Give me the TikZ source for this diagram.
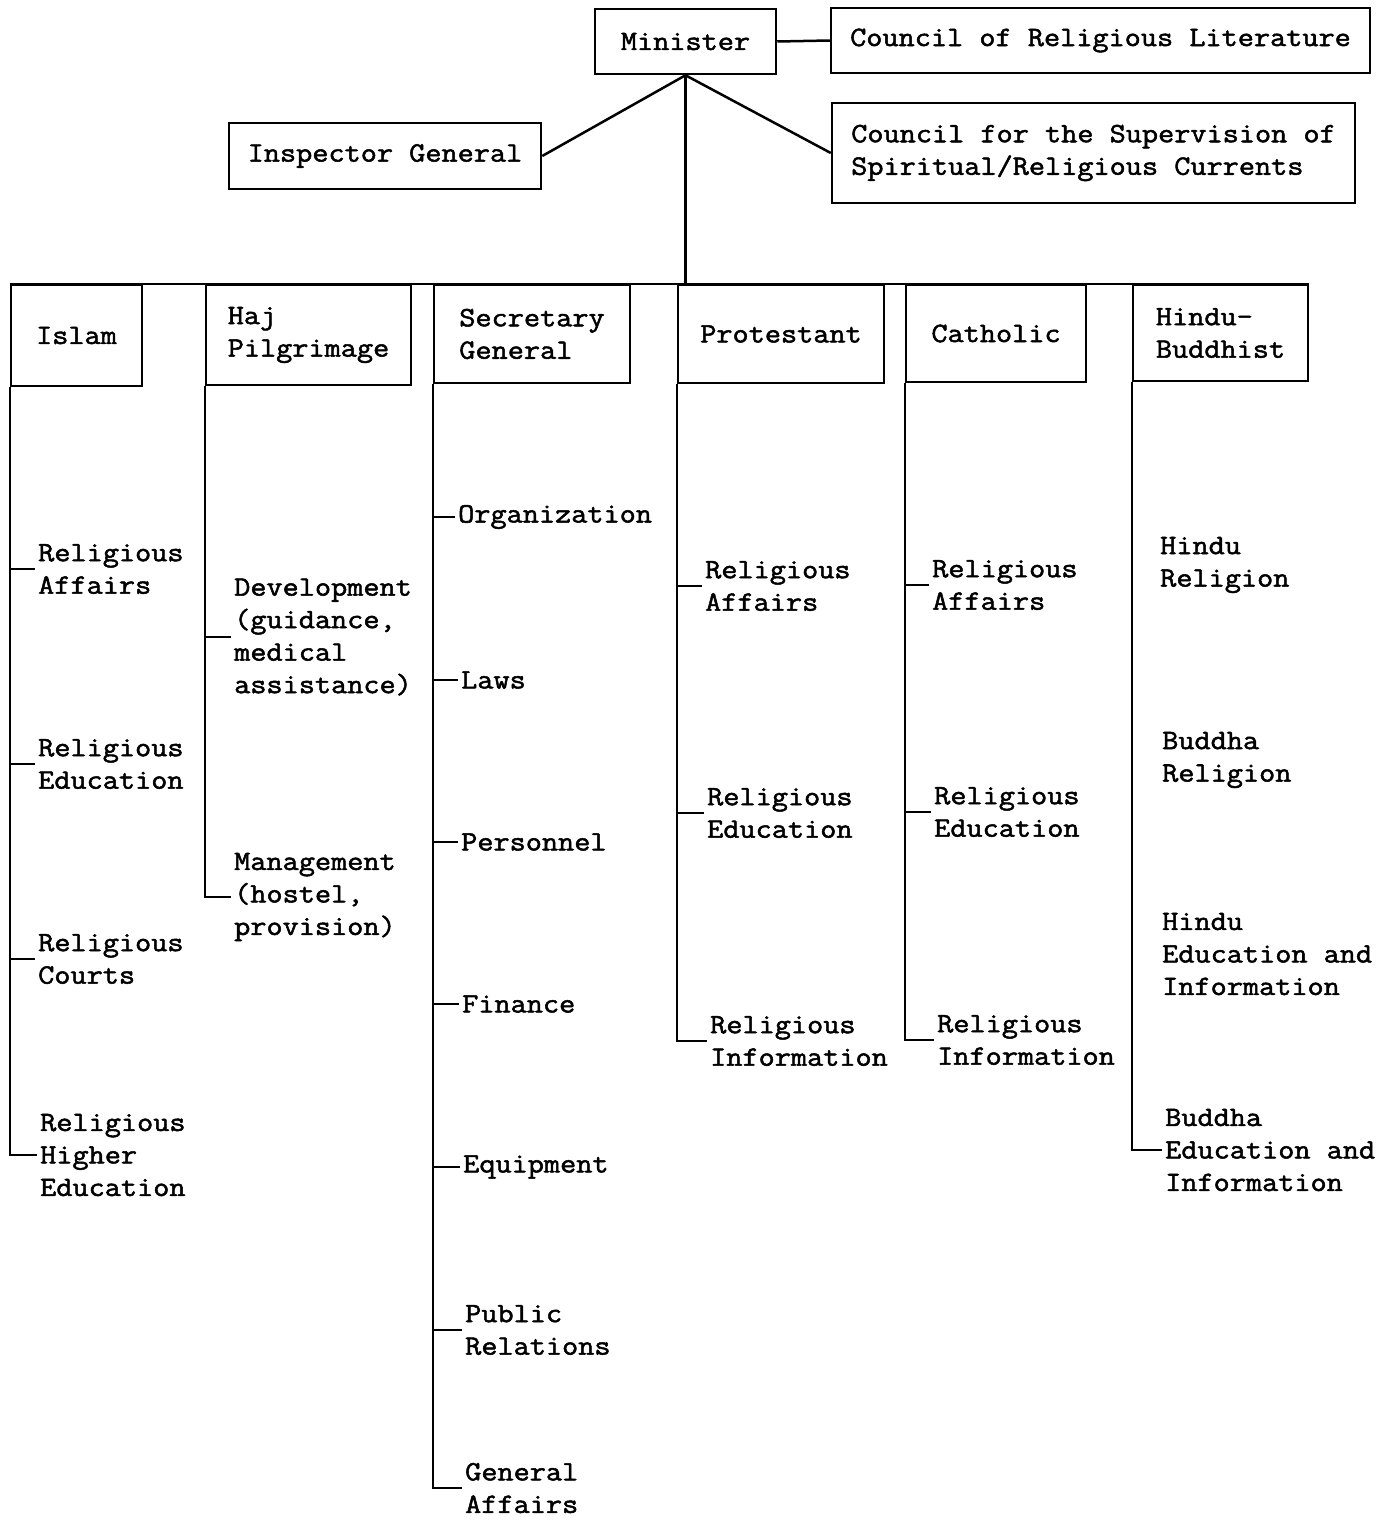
\documentclass[tikz,border=0pt]{standalone}
\usepackage{fontspec}
\newfontfamily\twfont[FakeStretch=1.12,FakeBold=1.8]{Latin Modern Mono}
\begin{document}
\begin{tikzpicture}[x=1pt,y=-1pt,
  every node/.style={font=\twfont\fontsize{28}{32.5}\selectfont},
  box/.style={draw,line width=2.5pt,inner sep=0pt,align=left},
  item/.style={anchor=west,align=left,inner xsep=3pt,inner ysep=0pt},
  conn/.style={line width=2.5pt}]
\useasboundingbox[fill=white] (0,0) rectangle (1393,1520);

% top boxes
\node[box,minimum width=181pt,minimum height=65pt] (min) at (685.5,41.5) {Minister};
\node[box,minimum width=539pt,minimum height=65pt] (lit) at (1100.5,40.5) {Council of Religious Literature};
\node[box,minimum width=312pt,minimum height=66pt] (insp) at (385,156) {Inspector General};
\node[box,minimum width=523pt,minimum height=100pt] (sup) at (1093.5,153) {Council for the Supervision of\\Spiritual/Religious Currents};

% column boxes
\node[box,minimum width=131pt,minimum height=101pt] (islam) at (76.5,335.5) {Islam};
\node[box,minimum width=205pt,minimum height=100pt] (haj) at (308.5,335) {Haj\\Pilgrimage};
\node[box,minimum width=196pt,minimum height=98pt] (sec) at (532,334) {Secretary\\General};
\node[box,minimum width=206pt,minimum height=98pt] (prot) at (781,334) {Protestant};
\node[box,minimum width=180pt,minimum height=97pt] (cath) at (996,333.5) {Catholic};
\node[box,minimum width=175pt,minimum height=96pt] (hb) at (1220.5,333) {Hindu-\\Buddhist};

% Islam items
\node[item] (ra1) at (35,569) {Religious\\Affairs};
\node[item] (re1) at (35,764) {Religious\\Education};
\node[item] (rc1) at (35,959) {Religious\\Courts};
\node[item] (rhe) at (37,1155) {Religious\\Higher\\Education};

% Haj items
\node[item] (dev) at (231,637) {Development\\(guidance,\\medical\\assistance)};
\node[item] (man) at (231,897) {Management\\(hostel,\\provision)};

% Secretary General items
\node[item] (org) at (455,517) {Organization};
\node[item] (laws) at (458,680) {Laws};
\node[item] (pers) at (458,842) {Personnel};
\node[item] (fin) at (459,1004) {Finance};
\node[item] (equip) at (460,1167) {Equipment};
\node[item] (pr) at (462,1330) {Public\\Relations};
\node[item] (ga) at (462,1488) {General\\Affairs};

% Protestant items
\node[item] (pra) at (702,586) {Religious\\Affairs};
\node[item] (pre) at (704,813) {Religious\\Education};
\node[item] (pri) at (707,1041) {Religious\\Information};

% Catholic items
\node[item] (cra) at (929,585) {Religious\\Affairs};
\node[item] (cre) at (931,812) {Religious\\Education};
\node[item] (cri) at (934,1040) {Religious\\Information};

% Hindu-Buddhist items
\node[item] (hr) at (1157,565) {Hindu\\Religion};
\node[item] (br) at (1159,760) {Buddha\\Religion};
\node[item] (hei) at (1159,954) {Hindu\\Education and\\Information};
\node[item] (bei) at (1162,1150) {Buddha\\Education and\\Information};

% top connectors
\draw[conn] (min.east) -- (lit.west);
\draw[conn] (insp.east) -- (min.south);
\draw[conn] (sup.west) -- (min.south);
\draw[conn] (min.south) -- (min.south |- islam.north);
\draw[conn] (islam.north west) -- (hb.north east);

% column lines
\draw[conn] (islam.south west) |- (rhe.west);
\foreach \n in {ra1,re1,rc1} \draw[conn] (islam.south west |- \n.west) -- (\n.west);
\draw[conn] (haj.south west) |- (man.west);
\draw[conn] (haj.south west |- dev.west) -- (dev.west);
\draw[conn] (sec.south west) |- (ga.west);
\foreach \n in {org,laws,pers,fin,equip,pr} \draw[conn] (sec.south west |- \n.west) -- (\n.west);
\draw[conn] (prot.south west) |- (pri.west);
\foreach \n in {pra,pre} \draw[conn] (prot.south west |- \n.west) -- (\n.west);
\draw[conn] (cath.south west) |- (cri.west);
\foreach \n in {cra,cre} \draw[conn] (cath.south west |- \n.west) -- (\n.west);
\draw[conn] (hb.south west) |- (bei.west);
\end{tikzpicture}
\end{document}
